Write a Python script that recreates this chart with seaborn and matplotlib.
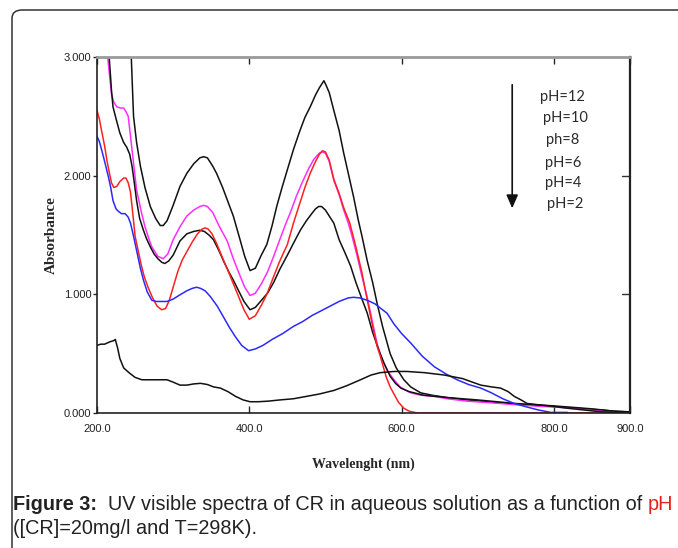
import numpy as np
import pandas as pd
import matplotlib
matplotlib.use("Agg")
import matplotlib.pyplot as plt
from matplotlib.patches import FancyBboxPatch
import seaborn as sns

# Data (wavelength in nm, absorbance)
WL_PH12 = [243, 245, 248, 252, 257, 263, 270, 277, 283, 287, 292, 300, 309, 318, 327, 335, 340, 345,
           352, 357, 365, 372, 379, 387, 394, 401, 408, 415, 423, 430, 436, 443, 450, 458, 466, 473,
           480, 487, 492, 496, 498, 501, 505, 511, 518, 524, 530, 537, 543, 548, 555, 562, 568, 575,
           585, 593, 603, 612, 625, 640, 660, 686, 720, 750, 774, 800, 830, 862, 880, 895]
ABS_PH12 = [3.30, 3.00, 2.50, 2.28, 2.08, 1.90, 1.74, 1.64, 1.58, 1.58, 1.62, 1.75, 1.91, 2.02, 2.10, 2.15, 2.16, 2.15,
            2.08, 2.02, 1.90, 1.78, 1.66, 1.48, 1.32, 1.20, 1.22, 1.32, 1.42, 1.58, 1.74, 1.90, 2.05, 2.22, 2.37, 2.49,
            2.58, 2.68, 2.74, 2.78, 2.80, 2.76, 2.70, 2.55, 2.38, 2.19, 2.02, 1.82, 1.63, 1.49, 1.28, 1.10, 0.92, 0.73,
            0.50, 0.38, 0.28, 0.22, 0.17, 0.15, 0.13, 0.11, 0.09, 0.075, 0.065, 0.055, 0.04, 0.025, 0.015, 0.01]

WL_PH10 = [212, 214, 219, 222, 226, 231, 235, 238, 241, 246, 252, 258, 263, 268, 272, 280, 287, 293, 300,
           309, 318, 327, 335, 340, 345, 352, 360, 371, 379, 387, 394, 401, 408, 416, 424, 432, 440, 447,
           454, 462, 470, 478, 485, 492, 496, 500, 505, 511, 518, 524, 530, 535, 541, 548, 555, 562, 568,
           575, 582, 590, 598, 606, 612, 625, 643, 660, 686, 720, 750, 774, 800, 830, 862, 880]
ABS_PH10 = [3.30, 3.00, 2.69, 2.62, 2.58, 2.57, 2.57, 2.54, 2.50, 2.22, 1.88, 1.70, 1.57, 1.47, 1.40, 1.32, 1.30, 1.34, 1.46,
            1.57, 1.66, 1.71, 1.74, 1.75, 1.74, 1.69, 1.58, 1.45, 1.30, 1.17, 1.06, 0.99, 1.01, 1.09, 1.19, 1.32, 1.46, 1.58,
            1.69, 1.83, 1.95, 2.06, 2.14, 2.19, 2.20, 2.19, 2.12, 1.96, 1.84, 1.71, 1.60, 1.49, 1.34, 1.15, 0.97, 0.76, 0.58,
            0.44, 0.35, 0.28, 0.22, 0.19, 0.17, 0.15, 0.14, 0.12, 0.10, 0.085, 0.07, 0.06, 0.05, 0.04, 0.02, 0.01]

WL_PH8 = [214, 216, 219, 221, 225, 230, 235, 239, 243, 246, 249, 252, 256, 261, 265, 270, 275, 280, 285,
          289, 294, 300, 309, 318, 327, 335, 341, 347, 353, 360, 367, 373, 379, 386, 393, 401, 408, 416,
          424, 432, 440, 450, 458, 467, 475, 482, 487, 491, 495, 500, 507, 511, 518, 525, 533, 540, 548,
          555, 562, 570, 577, 585, 592, 599, 610, 629, 660, 700, 750, 800, 850, 880, 900]
ABS_PH8 = [3.30, 3.00, 2.72, 2.58, 2.48, 2.36, 2.28, 2.24, 2.18, 2.08, 1.94, 1.79, 1.64, 1.54, 1.47, 1.40, 1.34, 1.30, 1.27,
           1.26, 1.28, 1.33, 1.45, 1.51, 1.53, 1.54, 1.53, 1.50, 1.46, 1.37, 1.27, 1.19, 1.12, 1.03, 0.94, 0.87, 0.89, 0.95,
           1.01, 1.10, 1.21, 1.33, 1.43, 1.54, 1.62, 1.68, 1.72, 1.74, 1.74, 1.71, 1.64, 1.60, 1.46, 1.36, 1.24, 1.10, 0.96,
           0.84, 0.68, 0.53, 0.42, 0.31, 0.25, 0.21, 0.18, 0.15, 0.13, 0.11, 0.08, 0.06, 0.035, 0.015, 0.01]

WL_PH6 = [200, 203, 206, 210, 213, 216, 219, 222, 226, 230, 235, 238, 241, 244, 246, 248, 250, 254, 258,
          262, 267, 273, 279, 285, 290, 295, 300, 306, 312, 318, 325, 332, 338, 342, 346, 351, 357, 364,
          372, 379, 386, 393, 400, 408, 416, 423, 432, 440, 450, 458, 466, 473, 480, 487, 492, 496, 500,
          505, 511, 518, 524, 532, 540, 548, 555, 562, 568, 572, 580, 585, 590, 596, 603, 610, 621, 640,
          700, 800, 900]
ABS_PH6 = [2.55, 2.48, 2.38, 2.25, 2.13, 2.03, 1.94, 1.90, 1.91, 1.95, 1.98, 1.98, 1.94, 1.86, 1.74, 1.62, 1.49, 1.37, 1.25,
           1.15, 1.06, 0.97, 0.90, 0.87, 0.88, 0.95, 1.06, 1.19, 1.29, 1.36, 1.44, 1.51, 1.55, 1.56, 1.55, 1.51, 1.43, 1.32,
           1.20, 1.09, 0.98, 0.87, 0.79, 0.82, 0.91, 1.00, 1.15, 1.28, 1.42, 1.60, 1.76, 1.90, 2.02, 2.12, 2.18, 2.21, 2.20,
           2.13, 1.97, 1.85, 1.73, 1.60, 1.40, 1.18, 0.95, 0.73, 0.56, 0.48, 0.30, 0.22, 0.16, 0.09, 0.04, 0.015, 0.0, 0.0,
           0.0, 0.0, 0.0]

WL_PH4 = [200, 203, 206, 210, 215, 218, 221, 225, 228, 232, 237, 241, 244, 248, 252, 257, 261, 266, 272,
          278, 285, 292, 300, 310, 318, 325, 331, 336, 342, 349, 358, 366, 374, 382, 390, 399, 408, 418,
          430, 444, 458, 470, 482, 494, 506, 518, 530, 537, 545, 555, 565, 575, 581, 590, 600, 612, 627,
          643, 658, 673, 688, 704, 718, 733, 748, 765, 780, 796, 818]
ABS_PH4 = [2.33, 2.29, 2.22, 2.12, 1.99, 1.90, 1.79, 1.72, 1.70, 1.68, 1.68, 1.65, 1.60, 1.49, 1.37, 1.22, 1.12, 1.02, 0.95,
           0.94, 0.94, 0.94, 0.96, 1.00, 1.03, 1.05, 1.06, 1.05, 1.03, 0.98, 0.90, 0.81, 0.72, 0.64, 0.57, 0.525, 0.54, 0.57,
           0.62, 0.67, 0.73, 0.77, 0.82, 0.86, 0.90, 0.94, 0.97, 0.975, 0.97, 0.95, 0.92, 0.87, 0.84, 0.75, 0.67, 0.59, 0.48,
           0.39, 0.33, 0.28, 0.24, 0.21, 0.17, 0.12, 0.08, 0.05, 0.025, 0.005, 0.005]

WL_PH2 = [200, 205, 210, 217, 222, 224, 227, 230, 235, 242, 250, 259, 268, 276, 284, 292, 300, 309, 318,
          327, 336, 345, 353, 362, 372, 382, 392, 401, 412, 425, 440, 458, 475, 492, 511, 528, 546, 560,
          572, 590, 607, 630, 656, 680, 704, 718, 730, 740, 748, 757, 765, 783, 800, 818, 840, 862, 880, 900]
ABS_PH2 = [0.57, 0.58, 0.58, 0.60, 0.61, 0.62, 0.55, 0.46, 0.38, 0.34, 0.30, 0.28, 0.28, 0.28, 0.28, 0.28, 0.26, 0.235, 0.235,
           0.245, 0.25, 0.24, 0.22, 0.21, 0.18, 0.14, 0.11, 0.095, 0.095, 0.10, 0.11, 0.12, 0.14, 0.16, 0.19, 0.23, 0.28, 0.32,
           0.34, 0.35, 0.35, 0.34, 0.32, 0.29, 0.235, 0.22, 0.21, 0.18, 0.14, 0.11, 0.08, 0.067, 0.055, 0.04, 0.025, 0.01, 0.005, 0.005]

SERIES = [
    ("pH=12", WL_PH12, ABS_PH12, "#111111"),
    ("pH=10", WL_PH10, ABS_PH10, "#ff2cff"),
    ("pH=8", WL_PH8, ABS_PH8, "#111111"),
    ("pH=6", WL_PH6, ABS_PH6, "#ff2020"),
    ("pH=4", WL_PH4, ABS_PH4, "#2a2aff"),
    ("pH=2", WL_PH2, ABS_PH2, "#111111"),
]

LEGEND_LABELS = ["pH=12", "pH=10", "ph=8", "pH=6", "pH=4", "pH=2"]
X_TICKS = [200, 400, 600, 800, 900]
X_TICK_LABELS = ["200.0", "400.0", "600.0", "800.0", "900.0"]
Y_TICKS = [0, 1, 2, 3]
Y_TICK_LABELS = ["0.000", "1.000", "2.000", "3.000"]

W, H = 678, 548


def build_frame():
    frames = []
    for name, wl, ab, _ in SERIES:
        frames.append(pd.DataFrame({"wl": wl, "abs": ab, "ph": name}))
    return pd.concat(frames, ignore_index=True)


def main():
    sns.set_style("white")
    plt.rcParams["font.family"] = ["Liberation Sans", "DejaVu Sans"]

    fig = plt.figure(figsize=(W / 100, H / 100), dpi=100)
    ax = fig.add_axes([97 / W, 1 - 413 / H, 533 / W, 356 / H])

    df = build_frame()
    palette = {name: color for name, _, _, color in SERIES}
    sns.lineplot(data=df, x="wl", y="abs", hue="ph", palette=palette, estimator=None,
                 sort=False, legend=False, linewidth=1.1, ax=ax)

    ax.set_xlim(200, 900)
    ax.set_ylim(0, 3)

    narrow = ["Liberation Sans Narrow", "Liberation Sans", "DejaVu Sans"]
    ax.set_xticks(X_TICKS)
    ax.set_xticklabels(X_TICK_LABELS, fontsize=8, family=narrow, color="#222222")
    ax.set_yticks(Y_TICKS)
    ax.set_yticklabels(Y_TICK_LABELS, fontsize=8, family=narrow, color="#222222")
    ax.tick_params(axis="x", direction="in", length=5, width=1, pad=8, top=True, bottom=True)
    ax.tick_params(axis="y", direction="out", length=3, width=1, pad=1, left=True, right=False)
    for y in [1, 2]:
        ax.plot([0.985, 1.0], [y / 3, y / 3], transform=ax.transAxes, color="#333333", lw=1, clip_on=False)

    for side in ["left", "bottom"]:
        ax.spines[side].set_color("#222222")
        ax.spines[side].set_linewidth(1.2)
    ax.spines["right"].set_color("#222222")
    ax.spines["right"].set_linewidth(1.6)
    ax.spines["top"].set_color("#9a9a9a")
    ax.spines["top"].set_linewidth(2.0)

    serif = ["Liberation Serif", "DejaVu Serif"]
    ax.set_xlabel("Wavelenght (nm)", fontsize=10, fontweight="bold", family=serif, labelpad=17)
    ax.set_ylabel("Absorbance", fontsize=11, fontweight="bold", family=serif, labelpad=4)

    # arrow + pH list
    ax.annotate("", xy=(0.779, 0.575), xytext=(0.779, 0.922), xycoords="axes fraction",
                arrowprops=dict(arrowstyle="-|>,head_length=0.8,head_width=0.35",
                                color="#111111", lw=1.2, shrinkA=0, shrinkB=0))
    label_pos = [(0.874, 0.888), (0.878, 0.829), (0.874, 0.767),
                 (0.874, 0.702), (0.874, 0.646), (0.878, 0.587)]
    for lab, (x, y) in zip(LEGEND_LABELS, label_pos):
        ax.text(x, y, lab, transform=ax.transAxes, ha="center", va="center",
                fontsize=10.5, family=["Lato", "DejaVu Sans"], color="#2a2a2a")

    # outer frame
    frame = FancyBboxPatch((12 / W, -0.05), 1.1, 1.05 - 10 / H,
                           boxstyle="round,pad=0,rounding_size=0.015",
                           transform=fig.transFigure, fill=False,
                           edgecolor="#333333", lw=1.1, clip_on=False)
    fig.patches.append(frame)

    # caption
    cap_color = "#222222"
    cap_size = 14.3
    t1 = fig.text(13 / W, 1 - 504 / H, "Figure 3:", fontsize=cap_size, fontweight="bold",
                  va="center", ha="left", color=cap_color)
    t2 = ax.annotate("  UV visible spectra of CR in aqueous solution as a function of ",
                     xy=(1, 0), xycoords=t1, va="bottom", ha="left", fontsize=cap_size,
                     color=cap_color, annotation_clip=False)
    ax.annotate("pH", xy=(1, 0), xycoords=t2, va="bottom", ha="left", fontsize=cap_size,
                color="#e8201b", annotation_clip=False)
    fig.text(13 / W, 1 - 528 / H, "([CR]=20mg/l and T=298K).", fontsize=cap_size,
             va="center", ha="left", color=cap_color)

    fig.savefig("out.png", dpi=100)
    plt.close(fig)


if __name__ == "__main__":
    main()
